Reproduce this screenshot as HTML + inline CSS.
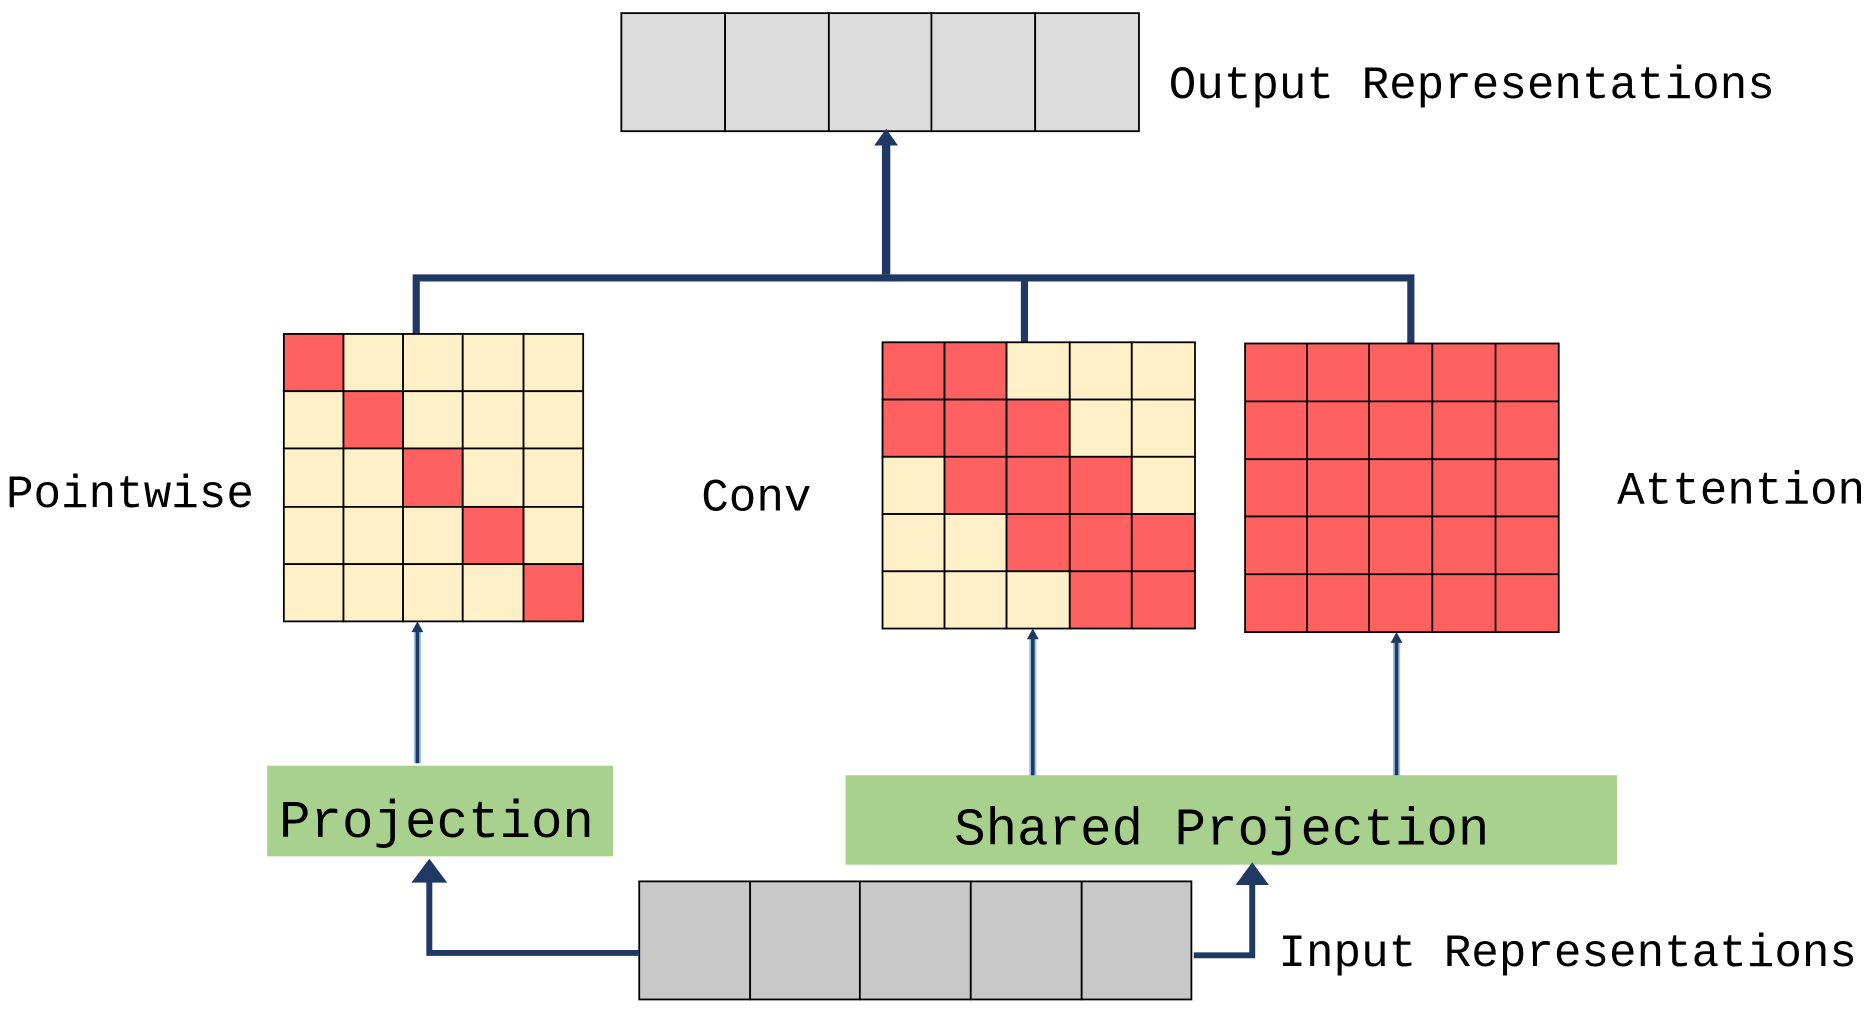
<!DOCTYPE html>
<html><head><meta charset="utf-8"><style>
html,body{margin:0;padding:0;background:#fff;}
svg{display:block;}
text{font-family:"Liberation Mono","Noto Sans CJK SC",monospace;fill:#000;}
</style></head><body>
<svg width="1870" height="1009" viewBox="0 0 1568 846" preserveAspectRatio="none" xmlns="http://www.w3.org/2000/svg">
<defs>
<marker id="ah" markerWidth="4" markerHeight="4" refX="2" refY="2" orient="auto" markerUnits="strokeWidth"><path d="M0,0 L4,2 L0,4 Z" fill="#203864"/></marker>
</defs>
<!-- output -->
<g stroke="#000" stroke-width="1.5" fill="#dcdcdc">
<rect x="521" y="11" width="87" height="99"/><rect x="608" y="11" width="87" height="99"/><rect x="695" y="11" width="86" height="99"/><rect x="781" y="11" width="87" height="99"/><rect x="868" y="11" width="87" height="99"/>
</g>
<text x="980" y="82" font-size="38.5">Output Representations</text>
<!-- connectors top -->
<g stroke="#203864" fill="none" stroke-width="6">
<path d="M349,280 V233 H1183 V288"/>
<path d="M859,233 V287"/>
<path d="M743,230 V122" stroke-width="7"/>
</g>
<path d="M733,122 L743,108 L753,122 Z" fill="#203864"/>
<!-- grids -->
<g stroke="#000" stroke-width="1.5">
<g id="pw"></g>
</g>
<g stroke="#000" stroke-width="1.5">
<!-- pointwise 238..489 x 280..521 -->
<rect x="238" y="280" width="50" height="48" fill="#ff6060"/><rect x="288" y="280" width="50" height="48" fill="#fff0c8"/><rect x="338" y="280" width="50" height="48" fill="#fff0c8"/><rect x="388" y="280" width="51" height="48" fill="#fff0c8"/><rect x="439" y="280" width="50" height="48" fill="#fff0c8"/>
<rect x="238" y="328" width="50" height="48" fill="#fff0c8"/><rect x="288" y="328" width="50" height="48" fill="#ff6060"/><rect x="338" y="328" width="50" height="48" fill="#fff0c8"/><rect x="388" y="328" width="51" height="48" fill="#fff0c8"/><rect x="439" y="328" width="50" height="48" fill="#fff0c8"/>
<rect x="238" y="376" width="50" height="49" fill="#fff0c8"/><rect x="288" y="376" width="50" height="49" fill="#fff0c8"/><rect x="338" y="376" width="50" height="49" fill="#ff6060"/><rect x="388" y="376" width="51" height="49" fill="#fff0c8"/><rect x="439" y="376" width="50" height="49" fill="#fff0c8"/>
<rect x="238" y="425" width="50" height="48" fill="#fff0c8"/><rect x="288" y="425" width="50" height="48" fill="#fff0c8"/><rect x="338" y="425" width="50" height="48" fill="#fff0c8"/><rect x="388" y="425" width="51" height="48" fill="#ff6060"/><rect x="439" y="425" width="50" height="48" fill="#fff0c8"/>
<rect x="238" y="473" width="50" height="48" fill="#fff0c8"/><rect x="288" y="473" width="50" height="48" fill="#fff0c8"/><rect x="338" y="473" width="50" height="48" fill="#fff0c8"/><rect x="388" y="473" width="51" height="48" fill="#fff0c8"/><rect x="439" y="473" width="50" height="48" fill="#ff6060"/>
<!-- conv 740..1002 x 287..527 -->
<rect x="740" y="287" width="52" height="48" fill="#ff6060"/><rect x="792" y="287" width="52" height="48" fill="#ff6060"/><rect x="844" y="287" width="53" height="48" fill="#fff0c8"/><rect x="897" y="287" width="52" height="48" fill="#fff0c8"/><rect x="949" y="287" width="53" height="48" fill="#fff0c8"/>
<rect x="740" y="335" width="52" height="48" fill="#ff6060"/><rect x="792" y="335" width="52" height="48" fill="#ff6060"/><rect x="844" y="335" width="53" height="48" fill="#ff6060"/><rect x="897" y="335" width="52" height="48" fill="#fff0c8"/><rect x="949" y="335" width="53" height="48" fill="#fff0c8"/>
<rect x="740" y="383" width="52" height="48" fill="#fff0c8"/><rect x="792" y="383" width="52" height="48" fill="#ff6060"/><rect x="844" y="383" width="53" height="48" fill="#ff6060"/><rect x="897" y="383" width="52" height="48" fill="#ff6060"/><rect x="949" y="383" width="53" height="48" fill="#fff0c8"/>
<rect x="740" y="431" width="52" height="48" fill="#fff0c8"/><rect x="792" y="431" width="52" height="48" fill="#fff0c8"/><rect x="844" y="431" width="53" height="48" fill="#ff6060"/><rect x="897" y="431" width="52" height="48" fill="#ff6060"/><rect x="949" y="431" width="53" height="48" fill="#ff6060"/>
<rect x="740" y="479" width="52" height="48" fill="#fff0c8"/><rect x="792" y="479" width="52" height="48" fill="#fff0c8"/><rect x="844" y="479" width="53" height="48" fill="#fff0c8"/><rect x="897" y="479" width="52" height="48" fill="#ff6060"/><rect x="949" y="479" width="53" height="48" fill="#ff6060"/>
</g>
<!-- attention -->
<g stroke="#000" stroke-width="1.5" fill="#ff6060">
<rect x="1044" y="288" width="263" height="242"/>
</g>
<g stroke="#000" stroke-width="1.5">
<path d="M1096,288V530M1148,288V530M1201,288V530M1254,288V530M1044,336.5H1307M1044,385H1307M1044,433H1307M1044,481.5H1307"/>
</g>
<text x="5" y="425" font-size="38.5">Pointwise</text>
<text x="588" y="428" font-size="38.5">Conv</text>
<text x="1356" y="422" font-size="38.5">Attention</text>
<!-- thin arrows -->
<g stroke="#9dc3e6" stroke-width="6" fill="none"><path d="M350,640V528M866,652V534M1171,652V537"/></g>
<g stroke="#203864" stroke-width="3" fill="none"><path d="M350,640V528M866,652V534M1171,652V537"/></g>
<g fill="#203864"><path d="M345,530 L350,521 L355,530Z"/><path d="M861,536 L866,527 L871,536Z"/><path d="M1166,539 L1171,530 L1176,539Z"/></g>
<!-- projection boxes -->
<rect x="224" y="642" width="290" height="76" fill="#a9d18e"/>
<text x="234" y="702" font-size="44">Projection</text>
<rect x="709" y="650" width="647" height="75" fill="#a9d18e"/>
<text x="800" y="708" font-size="44">Shared Projection</text>
<!-- input -->
<g stroke="#000" stroke-width="1.5" fill="#c8c8c8">
<rect x="536" y="739" width="93" height="99"/><rect x="629" y="739" width="92" height="99"/><rect x="721" y="739" width="93" height="99"/><rect x="814" y="739" width="93" height="99"/><rect x="907" y="739" width="92" height="99"/>
</g>
<text x="1072" y="810" font-size="38.5">Input Representations</text>
<g stroke="#203864" stroke-width="5" fill="none">
<path d="M536,799 H360 V738"/>
<path d="M1001,801 H1050 V740"/>
</g>
<g fill="#203864"><path d="M345,740 L360,720 L375,740Z"/><path d="M1036,742 L1050,723 L1064,742Z"/></g>
</svg>
</body></html>
